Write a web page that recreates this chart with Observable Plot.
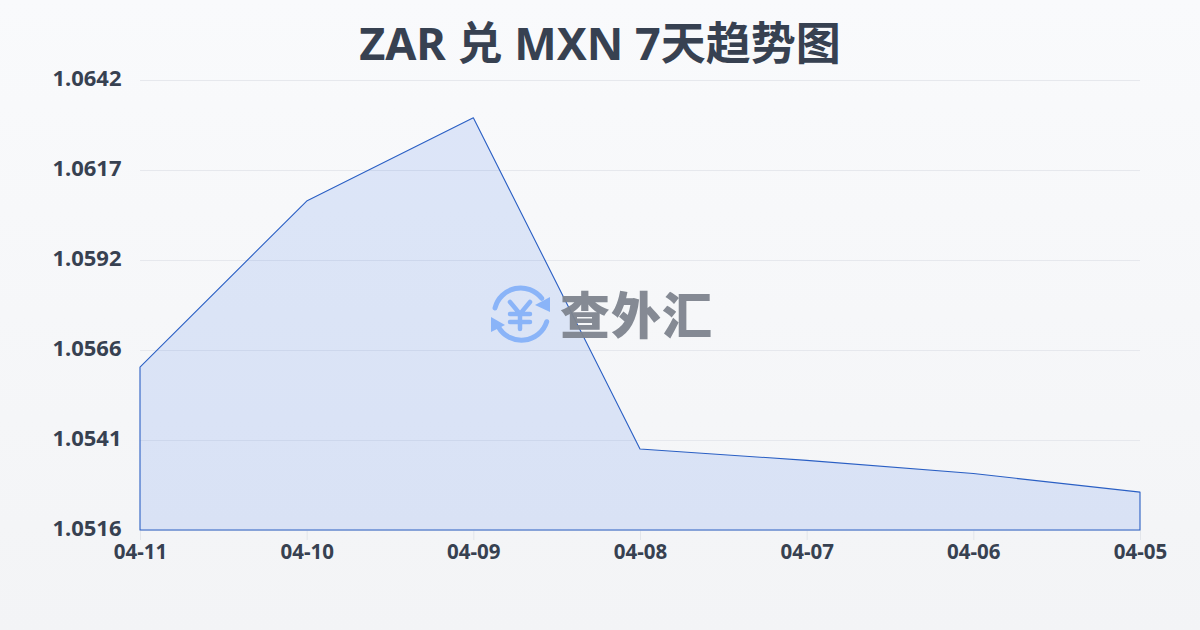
<!DOCTYPE html>
<html><head><meta charset="utf-8">
<script src="https://cdn.jsdelivr.net/npm/d3@7"></script>
<script src="https://cdn.jsdelivr.net/npm/@observablehq/plot@0.6"></script>
<style>
html,body{margin:0;padding:0;width:1200px;height:630px;overflow:hidden}
body{background:linear-gradient(180deg,#f9fafc 0%,#f3f4f6 100%);position:relative;font-family:"Noto Sans","Noto Sans CJK SC",sans-serif}
#title{position:absolute;left:0;top:13px;width:1200px;text-align:center;font:700 45px/60px "Noto Sans","Noto Sans CJK SC",sans-serif;color:#374151}
#chart{position:absolute;left:0;top:70px}
#chart svg{background:transparent;overflow:visible}
#wm{position:absolute;left:488px;top:284px;width:64px;height:62px}
#wmtext{position:absolute;left:560px;top:278px;font:900 50px/68px "Noto Sans CJK SC",sans-serif;color:#7f858f;letter-spacing:1px;white-space:nowrap;opacity:.95}
</style></head><body>
<div id="title">ZAR 兑 MXN 7天趋势图</div>
<div id="chart"></div>
<svg id="wm" viewBox="0 0 64 62">
  <g fill="none" stroke="#8ab4f8" stroke-width="5" stroke-linecap="round">
    <path d="M7 24 A26.5 26.5 0 0 1 53.7 14.3"/>
    <path d="M58.7 37.7 A26.5 26.5 0 0 1 10.3 42.7"/>
  </g>
  <path d="M62 13 L62 28 L47 21 Z" fill="#8ab4f8"/>
  <path d="M3 33 L3 48 L17 41 Z" fill="#8ab4f8"/>
  <g fill="none" stroke="#8ab4f8" stroke-width="4.5" stroke-linecap="round">
    <path d="M22 18 L32 30 L42 18 M32 30 L32 45 M22 30 L42 30 M22 38 L42 38"/>
  </g>
</svg>
<div id="wmtext">查外汇</div>
<script>
const dates = ["04-11","04-10","04-09","04-08","04-07","04-06","04-05"];
const rates = [1.05616,1.06081,1.06314,1.05387,1.05355,1.05318,1.05266];
const yTicks = [1.0516,1.05412,1.05664,1.05916,1.06168,1.0642];
const rows = dates.map((d,i)=>({d,v:rates[i]}));
const chart = Plot.plot({
  width:1200,height:500,
  marginLeft:140,marginRight:60,marginTop:10,marginBottom:40,
  style:{background:"transparent",overflow:"visible"},
  x:{type:"point",domain:dates,padding:0,round:false,label:null},
  y:{domain:[1.0516,1.0642],label:null},
  marks:[
    Plot.gridY(yTicks,{stroke:"#e6e8ed",strokeOpacity:1,strokeWidth:1}),
    Plot.axisX({ticks:dates,tickSize:10,stroke:"#e2e5ea",tickPadding:4,
      fontSize:20.5,fontWeight:700,fill:"#374151",fontFamily:"Noto Sans",label:null,anchor:"bottom"}),
    Plot.axisY({ticks:yTicks,tickSize:0,tickPadding:19,tickFormat:d=>d.toFixed(4),
      fontSize:22,fontWeight:700,fill:"#374151",fontFamily:"Noto Sans",label:null,anchor:"left",dy:-2}),
    Plot.areaY(rows,{x:"d",y1:1.0516,y2:"v",fill:"#2563eb",fillOpacity:0.13,stroke:"#2a5fc4",strokeWidth:1.1})
  ]
});
document.getElementById("chart").append(chart);
</script>
</body></html>
